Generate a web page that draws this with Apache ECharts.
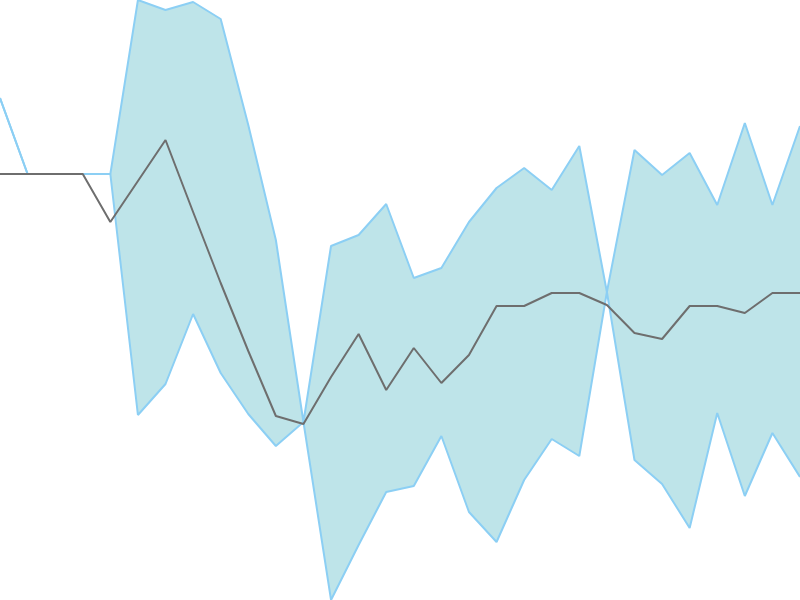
<!DOCTYPE html>
<html>
	<head>
		<meta charset="UTF-8">
		<title></title>
		<script src="https://cdn.jsdelivr.net/npm/echarts@6/dist/echarts.min.js"></script>
		<style type="text/css">
			html, body{
				margin: 0;
				padding: 0;
				background: #fff;
			}
			#chart{
				width: 800px;
				height: 600px;
			}
		</style>
	</head>
	<body>
		<div id="chart"></div>
		<script>
		// 30 points, no labels shown in the picture
		var days = [];
		for (var i = 0; i < 30; i++) {
			days.push('d' + (i + 1));
		}
		var upper = [502,426,426,426,426,600,590,598,581,475,360,178,354,365,396,322,332,378,412,432,410,454,308,450,425,447,395,477,395,474];
		var lower = [502,426,426,426,426,185,216,286,227,186,154,178,0,55,108,114,164,88,58,120,161,144,308,140,116,72,187,104,167,123];
		var middle = [426,426,426,426,378,419,460,388,317,249,184,176,223,266,210,252,217,245,294,294,307,307,295,267,261,294,294,287,307,307];

		var band = [];
		for (var i = 0; i < upper.length; i++) {
			band.push(upper[i] - lower[i]);
		}

		var myChart = echarts.init(document.getElementById('chart'));
		var option = {
			animation: false,
			grid: {left: 0, right: 0, top: 0, bottom: 0},
			xAxis: {
				type: 'category',
				data: days,
				boundaryGap: false,
				show: false
			},
			yAxis: {
				type: 'value',
				min: 0,
				max: 600,
				show: false
			},
			series: [
				{
					name: 'lower',
					type: 'line',
					stack: 'band',
					data: lower,
					symbol: 'none',
					z: 3,
					lineStyle: {color: '#8ccff4', width: 2}
				},
				{
					name: 'band',
					type: 'line',
					stack: 'band',
					data: band,
					symbol: 'none',
					z: 2,
					lineStyle: {color: '#8ccff4', width: 2},
					areaStyle: {color: '#bee4e9', opacity: 1}
				},
				{
					name: 'middle',
					type: 'line',
					data: middle,
					symbol: 'none',
					z: 4,
					lineStyle: {color: '#6e6e6e', width: 2}
				}
			]
		};
		myChart.setOption(option);
		</script>
	</body>
</html>
